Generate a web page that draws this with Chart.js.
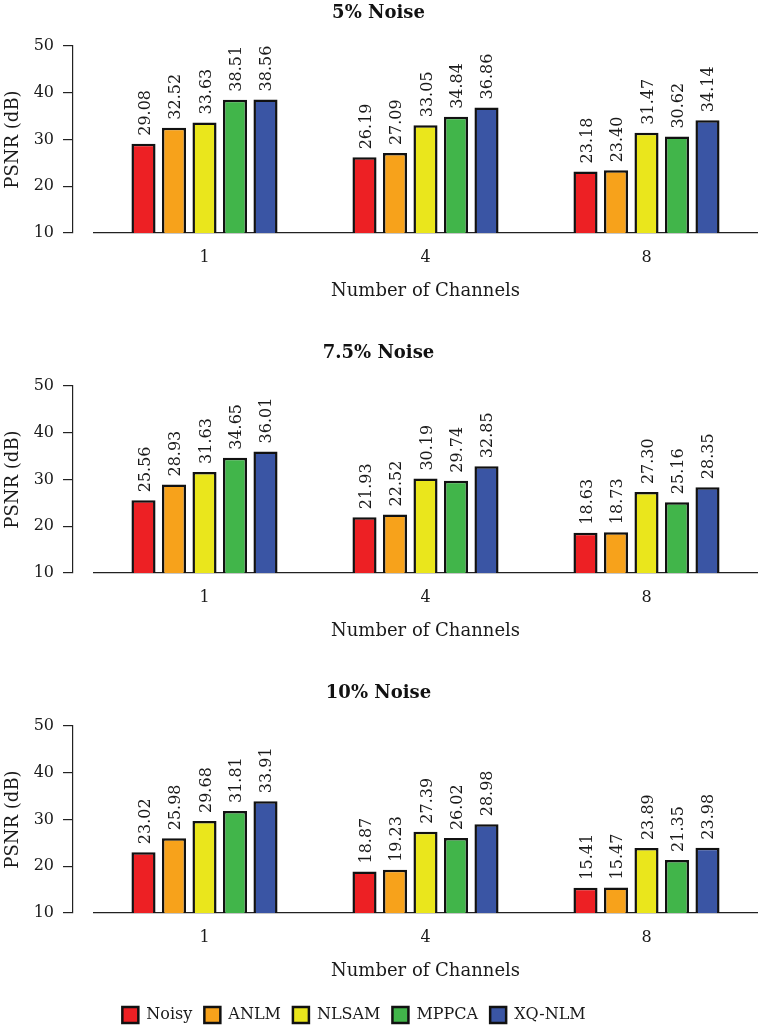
<!DOCTYPE html>
<html>
<head>
<meta charset="utf-8">
<script src="https://cdn.jsdelivr.net/npm/chart.js@4.4.1/dist/chart.umd.min.js"></script>
<style>
  html, body { margin: 0; background: #fff; overflow: hidden; }
  #wrap { position: relative; width: 765px; height: 1028px; }
  canvas { position: absolute; left: 0; }
</style>
</head>
<body>
<div id="wrap">
  <canvas id="c5" width="765" height="340" style="top:0"></canvas>
  <canvas id="c75" width="765" height="340" style="top:340px"></canvas>
  <canvas id="c10" width="765" height="340" style="top:680px"></canvas>
  <canvas id="legend" width="708" height="33" style="top:995px"></canvas>
</div>
<script>
// Data
const channels = ["1", "4", "8"];
const methods = ["Noisy", "ANLM", "NLSAM", "MPPCA", "XQ-NLM"];
const colors = ["#ED2024", "#F7A21B", "#EAE61C", "#41B54A", "#3A55A4"];
const yTicks = [10, 20, 30, 40, 50];

// one row per method, one value per channel count
const noise5 = [
  [29.08, 26.19, 23.18],
  [32.52, 27.09, 23.40],
  [33.63, 33.05, 31.47],
  [38.51, 34.84, 30.62],
  [38.56, 36.86, 34.14],
];
const noise75 = [
  [25.56, 21.93, 18.63],
  [28.93, 22.52, 18.73],
  [31.63, 30.19, 27.30],
  [34.65, 29.74, 25.16],
  [36.01, 32.85, 28.35],
];
const noise10 = [
  [23.02, 18.87, 15.41],
  [25.98, 19.23, 15.47],
  [29.68, 27.39, 23.89],
  [31.81, 26.02, 21.35],
  [33.91, 28.98, 23.98],
];

const FONT = "'DejaVu Serif', serif";
const TXT = "#1a1a1a";

// draws the rotated value above every bar
const valueLabels = {
  id: "valueLabels",
  afterDatasetsDraw(chart) {
    const ctx = chart.ctx;
    ctx.save();
    ctx.font = "16px " + FONT;
    ctx.fillStyle = TXT;
    ctx.textAlign = "left";
    ctx.textBaseline = "alphabetic";
    chart.data.datasets.forEach((ds, i) => {
      chart.getDatasetMeta(i).data.forEach((bar, j) => {
        ctx.save();
        ctx.translate(bar.x, bar.y - 8);
        ctx.rotate(-Math.PI / 2);
        ctx.fillText(ds.data[j].toFixed(2), 0, 6);
        ctx.restore();
      });
    });
    ctx.restore();
  },
};

function makeDatasets(rows) {
  return methods.map((m, i) => ({
    label: m,
    data: rows ? rows[i] : [],
    backgroundColor: colors[i],
    borderColor: "#111",
    borderWidth: 2.5,
    borderSkipped: false,
    categoryPercentage: 0.69,
    barPercentage: 0.79,
  }));
}

function panel(id, title, rows) {
  new Chart(document.getElementById(id), {
    type: "bar",
    data: { labels: channels, datasets: makeDatasets(rows) },
    options: {
      responsive: false,
      animation: false,
      layout: { padding: { left: 0, right: 8, top: 0, bottom: 38 } },
      plugins: {
        legend: { display: false },
        tooltip: { enabled: false },
        title: {
          display: true,
          text: title,
          color: "#111",
          font: { family: FONT, size: 18, weight: "bold" },
          padding: { top: 3, bottom: 21.4 },
        },
      },
      scales: {
        x: {
          grid: { display: false, drawTicks: false },
          border: { display: true, color: "#222", width: 1.2 },
          ticks: { color: TXT, font: { family: FONT, size: 16 }, padding: 15 },
          title: {
            display: true,
            text: "Number of Channels",
            color: TXT,
            font: { family: FONT, size: 18 },
            padding: 0,
          },
          afterFit: (s) => { s.height = 69; },
        },
        y: {
          position: "left",
          weight: 1,
          min: yTicks[0],
          max: yTicks[yTicks.length - 1],
          afterBuildTicks: (s) => { s.ticks = yTicks.map((v) => ({ value: v })); },
          grid: { drawOnChartArea: false, drawTicks: true, tickLength: 10, color: "#222", lineWidth: 1.2 },
          border: { display: true, color: "#222", width: 1.2 },
          ticks: { color: TXT, font: { family: FONT, size: 16 }, padding: 9 },
          title: {
            display: true,
            text: "PSNR (dB)",
            color: TXT,
            font: { family: FONT, size: 18 },
            padding: { top: 3, bottom: 0 },
          },
          afterFit: (s) => { s.width = 73; },
        },
        // empty spacer so the y axis line sits left of the bars' area
        ys: {
          type: "linear",
          position: "left",
          weight: 0,
          grid: { display: false },
          border: { display: false },
          ticks: { display: false },
          afterFit: (s) => { s.width = 21; },
        },
      },
    },
    plugins: [valueLabels],
  });
}

panel("c5", "5% Noise", noise5);
panel("c75", "7.5% Noise", noise75);
panel("c10", "10% Noise", noise10);

// shared legend
new Chart(document.getElementById("legend"), {
  type: "bar",
  data: { labels: channels, datasets: makeDatasets(null) },
  options: {
    responsive: false,
    animation: false,
    layout: { padding: 0 },
    scales: { x: { display: false }, y: { display: false } },
    plugins: {
      tooltip: { enabled: false },
      legend: {
        position: "top",
        maxHeight: 33,
        labels: {
          color: TXT,
          font: { family: FONT, size: 16 },
          boxWidth: 16,
          boxHeight: 16,
          padding: 12,
        },
      },
    },
  },
});
</script>
</body>
</html>
